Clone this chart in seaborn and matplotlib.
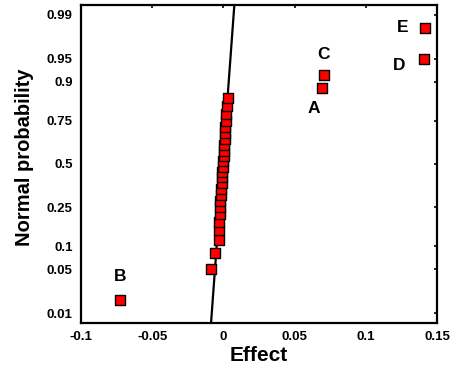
"""Normal probability plot of factorial effects (recreated)."""
from statistics import NormalDist

import matplotlib
matplotlib.use("Agg")
import matplotlib.pyplot as plt
import numpy as np
import pandas as pd
import seaborn as sns

# sorted effect estimates
effects = [
    -0.0725,
    -0.0087, -0.0056, -0.0033, -0.0033, -0.0028, -0.0026, -0.0023, -0.0021,
    -0.0019, -0.0016, -0.0012, -0.0009, -0.0007, -0.0005, -0.0002, 0.0002,
    0.0005, 0.0007, 0.0009, 0.0009, 0.0012, 0.0016, 0.0019, 0.0023, 0.0030,
    0.0692, 0.0706, 0.1410, 0.1415,
]
# labelled (significant) effects: rank index -> name
outlier_names = {0: "B", 26: "A", 27: "C", 28: "D", 29: "E"}

# reference normal line (mean, sd)
line_mu = -0.0005
line_sd = 0.0033

prob_ticks = [0.01, 0.05, 0.1, 0.25, 0.5, 0.75, 0.9, 0.95, 0.99]
prob_labels = ["0.01", "0.05", "0.1", "0.25", "0.5", "0.75", "0.9", "0.95", "0.99"]
x_ticks = [-0.1, -0.05, 0, 0.05, 0.1, 0.15]
x_labels = ["-0.1", "-0.05", "0", "0.05", "0.1", "0.15"]

sns.set_theme(style="white")
plt.rcParams["font.family"] = ["Liberation Sans", "DejaVu Sans"]
plt.rcParams["font.weight"] = "bold"
plt.rcParams["text.color"] = "black"
plt.rcParams["axes.labelcolor"] = "black"
plt.rcParams["xtick.color"] = "black"
plt.rcParams["ytick.color"] = "black"

nd = NormalDist()
n = len(effects)
z = [nd.inv_cdf((i + 0.5) / n) for i in range(n)]
df = pd.DataFrame({"effect": effects, "z": z})

z_lim = 2.48
line_df = pd.DataFrame({"z": [-z_lim, z_lim]})
line_df["effect"] = line_mu + line_sd * line_df["z"]

fig = plt.figure(figsize=(4.56, 3.71), dpi=100)
ax = fig.add_axes([81 / 456, 1 - 323 / 371, 356 / 456, 318 / 371])

sns.lineplot(data=line_df, x="effect", y="z", sort=False, color="black",
             linewidth=1.6, ax=ax)
sns.scatterplot(data=df, x="effect", y="z", marker="s", s=42, color="red",
                edgecolor="black", linewidth=1.0, zorder=3, ax=ax)

# offsets (points) for the letter labels
offsets = {"B": (0, 17), "A": (-6, -15), "C": (0, 15), "D": (-18, -5), "E": (-16, 0)}
for idx, name in outlier_names.items():
    ax.annotate(name, (df.effect[idx], df.z[idx]), xytext=offsets[name],
                textcoords="offset points", ha="center", va="center",
                fontsize=12.5, fontweight="bold", color="black")

ax.set_xlim(-0.1, 0.15)
ax.set_ylim(-z_lim, z_lim)
ax.set_xticks(x_ticks)
ax.set_xticklabels(x_labels, fontsize=9.5, fontweight="bold")
ax.set_yticks([nd.inv_cdf(p) for p in prob_ticks])
ax.set_yticklabels(prob_labels, fontsize=9.5, fontweight="bold")
ax.tick_params(direction="in", length=2.5, width=1.2, top=True, right=True,
               color="black", labelcolor="black", pad=6)
for sp in ax.spines.values():
    sp.set_linewidth(1.6)
    sp.set_color("black")

ax.set_xlabel("Effect", fontsize=15, fontweight="bold", labelpad=2)
ax.set_ylabel("Normal probability", fontsize=14.5, fontweight="bold", labelpad=9)
ax.yaxis.label.set_y(0.52)

fig.savefig("out.png", dpi=100)
